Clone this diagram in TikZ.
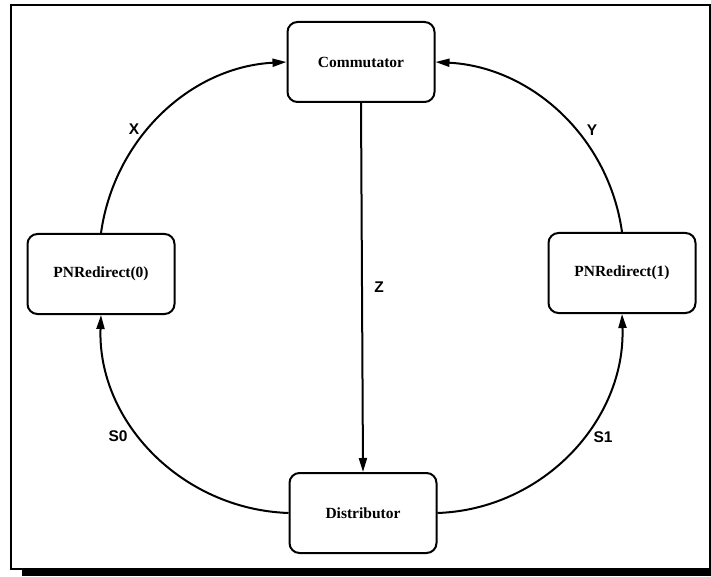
\documentclass[tikz,border=0pt]{standalone}
\usepackage{fontspec}
\setmainfont{Liberation Serif}
\setsansfont{Liberation Sans}
\usetikzlibrary{arrows.meta}
\begin{document}
\begin{tikzpicture}[x=1pt,y=1pt,
  box/.style={draw, line width=2pt, rounded corners=10pt, minimum width=147pt, minimum height=80pt, inner sep=0pt, font=\fontsize{15.5}{18}\selectfont\bfseries},
  conn/.style={line width=2pt, -{Triangle[length=14pt,width=8pt]}},
  lbl/.style={font=\fontsize{15.5}{18}\selectfont\sffamily\bfseries}]
\useasboundingbox (0,0) rectangle (711,576);
\draw[line width=2.5pt] (11,571) rectangle (710,7);
\fill (22,0) rectangle (711,8);
\node[box] (comm) at (361,514) {Commutator};
\node[box] (p0) at (101,302) {PNRedirect(0)};
\node[box] (p1) at (622,303) {PNRedirect(1)};
\node[box] (dist) at (363,63) {Distributor};
\draw[conn] (p0.north) to[out=82,in=183,looseness=0.97] (comm.west);
\draw[conn] (p1.north) to[out=98,in=-3,looseness=0.97] (comm.east);
\draw[conn] (dist.west) to[out=178,in=-92,looseness=1] (p0.south);
\draw[conn] (dist.east) to[out=2,in=-88,looseness=1] (p1.south);
\draw[conn] (comm.south) -- (dist.north);
\node[lbl] (lx) at (134,447) {X};
\node[lbl] (ly) at (592,446) {Y};
\node[lbl] (lz) at (379,289) {Z};
\node[lbl] (ls0) at (118,140) {S0};
\node[lbl] (ls1) at (603,139) {S1};
\end{tikzpicture}
\end{document}
